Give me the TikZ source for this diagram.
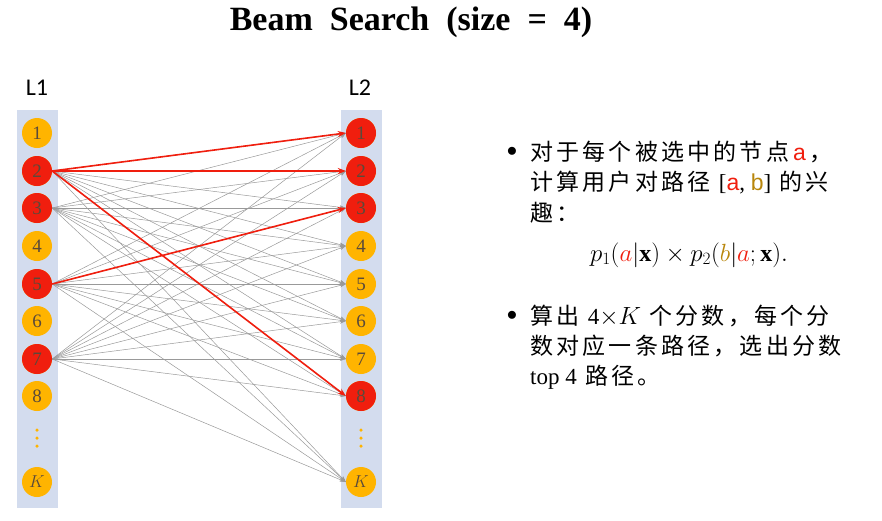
\documentclass[tikz,border=0pt]{standalone}
\usepackage{fontspec}
\usepackage{amsmath}
\usetikzlibrary{arrows.meta}
\setmainfont{Liberation Serif}
\newfontfamily\cjk[LetterSpace=14]{Noto Sans CJK SC}
\newfontfamily\lab{Carlito}
\definecolor{bar}{HTML}{D3DCEE}
\definecolor{orng}{HTML}{FFB400}
\definecolor{rd}{HTML}{F01E0E}
\definecolor{gld}{HTML}{B8860B}
\definecolor{num}{HTML}{5A4A3A}
\begin{document}
\begin{tikzpicture}[x=1pt,y=-1pt,
  nd/.style={circle,minimum size=30pt,inner sep=0pt,font=\fontsize{19}{19}\selectfont\color{num}},
  yel/.style={nd,fill=orng},
  red/.style={nd,fill=rd},
  dot/.style={circle,fill=orng,inner sep=0pt,minimum size=3.5pt},
  ge/.style={->,>={Stealth[length=6pt,width=4pt]},draw=gray!80,line width=0.5pt},
  re/.style={->,>={Stealth[length=8pt,width=6pt]},draw=rd,line width=1.6pt},
  txt/.style={anchor=west,font=\fontsize{23}{23}\selectfont\cjk,inner sep=0pt}]
\useasboundingbox (0,0) rectangle (882,520);
\node[font=\bfseries\fontsize{34}{34}\selectfont] (title) at (411,22) {Beam\ \ Search\ \ (size\ \ =\ \ 4)};
\node[font=\lab\fontsize{24}{24}\selectfont] (l1) at (37,88) {L1};
\node[font=\lab\fontsize{24}{24}\selectfont] (l2) at (360,88) {L2};
\fill[bar] (17,110) rectangle (58,508);
\fill[bar] (341,110) rectangle (382,508);
\foreach \side/\x in {a/37,b/361}{
  \foreach \i/\y in {1/133,2/171,3/208,4/246,5/284,6/321,7/359,8/396}{
    \node[yel] (\side\i) at (\x,\y) {\i};
  }
  \node[yel] (\side K) at (\x,482) {$K$};
  \foreach \j/\y in {1/430,2/438,3/446}{\node[dot] (\side d\j) at (\x,\y) {};}
}
\node[red] at (a2) {2}; \node[red] at (a3) {3}; \node[red] at (a5) {5}; \node[red] at (a7) {7};
\node[red] at (b1) {1}; \node[red] at (b2) {2}; \node[red] at (b3) {3}; \node[red] at (b8) {8};
\foreach \s in {2,3,5,7}{
  \foreach \t in {1,2,3,4,5,6,7,8,K}{
    \draw[ge] (a\s.east) -- (b\t.west);
  }
}
\draw[re] (a2.east) -- (b1.west);
\draw[re] (a2.east) -- (b2.west);
\draw[re] (a2.east) -- (b8.west);
\draw[re] (a5.east) -- (b3.west);
\node[font=\fontsize{22}{22}\selectfont] (bu1) at (512,152) {$\bullet$};
\node[txt] (t1) at (530,152) {对于每个被选中的节点\,{\color{rd}\fontspec{Liberation Sans}a}\,，};
\node[txt] (t2) at (530,183) {计算用户对路径 {\rmfamily[{\color{rd}\fontspec{Liberation Sans}a}, {\color{gld}\fontspec{Liberation Sans}b}]} 的兴};
\node[txt] (t3) at (530,213) {趣：};
\node[font=\fontsize{24}{24}\selectfont] (f) at (689,255) {$p_1({\color{rd}a}|\mathbf{x})\times p_2({\color{gld}b}|{\color{rd}a};\mathbf{x}).$};
\node[font=\fontsize{22}{22}\selectfont] (bu2) at (512,316) {$\bullet$};
\node[txt] (t4) at (530,316) {算出 {\rmfamily 4$\times$$K$} 个分数，每个分};
\node[txt] (t5) at (530,346) {数对应一条路径，选出分数};
\node[txt] (t6) at (530,377) {{\rmfamily top 4} 路径。};
\end{tikzpicture}
\end{document}
